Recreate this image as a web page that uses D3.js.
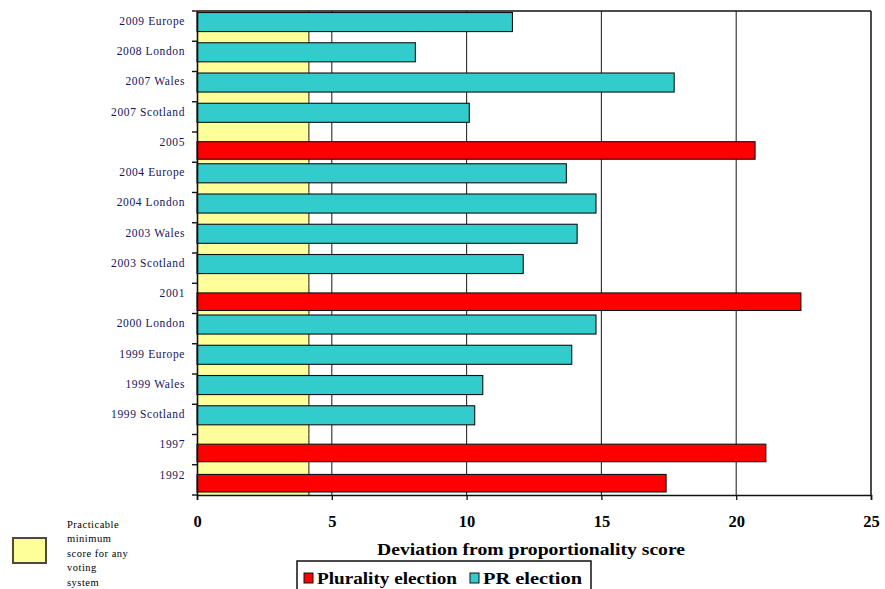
<!DOCTYPE html>
<html>
<head>
<meta charset="utf-8">
<script src="https://cdn.jsdelivr.net/npm/d3@7"></script>
<style>
  html, body { margin: 0; padding: 0; background: #ffffff; }
  svg { display: block; }
</style>
</head>
<body>
<div id="chart"></div>
<script>
// ---------- data ----------
const categories = ["2009 Europe", "2008 London", "2007 Wales", "2007 Scotland", "2005",
  "2004 Europe", "2004 London", "2003 Wales", "2003 Scotland", "2001",
  "2000 London", "1999 Europe", "1999 Wales", "1999 Scotland", "1997", "1992"];
const electionType = ["PR", "PR", "PR", "PR", "Plurality",
  "PR", "PR", "PR", "PR", "Plurality",
  "PR", "PR", "PR", "PR", "Plurality", "Plurality"];
const deviation = [11.7, 8.1, 17.7, 10.1, 20.7,
  13.7, 14.8, 14.1, 12.1, 22.4,
  14.8, 13.9, 10.6, 10.3, 21.1, 17.4];
const minimumScore = [4.15, 4.15, 4.15, 4.15, 4.15, 4.15, 4.15, 4.15,
  4.15, 4.15, 4.15, 4.15, 4.15, 4.15, 4.15, 4.15];
const xTicks = [0, 5, 10, 15, 20, 25];
const seriesNames = ["Plurality election", "PR election"];
const minimumLabel = ["Practicable", "minimum", "score for any", "voting", "system"];
const xTitle = "Deviation from proportionality score";

// ---------- setup ----------
const W = 885, H = 589;
const colors = { Plurality: "#ff0000", PR: "#33cccc", minimum: "#ffff99" };
const serif = "'Liberation Serif', 'Times New Roman', serif";

const svg = d3.select("#chart").append("svg")
  .attr("width", W).attr("height", H);

const x = d3.scaleLinear().domain([0, 25]).range([197, 871]);
const y = d3.scaleBand().domain(categories).range([11, 495]).padding(0);
const bw = y.bandwidth();

const rows = categories.map((c, i) => ({
  cat: c, type: electionType[i], val: deviation[i], min: minimumScore[i]
}));

// yellow practicable-minimum bars (behind)
svg.append("g").selectAll("rect").data(rows).join("rect")
  .attr("x", x(0))
  .attr("y", d => y(d.cat))
  .attr("width", d => x(d.min) - x(0))
  .attr("height", bw)
  .attr("fill", colors.minimum);
svg.append("g").selectAll("line").data(rows).join("line")
  .attr("x1", d => x(d.min)).attr("x2", d => x(d.min))
  .attr("y1", d => y(d.cat)).attr("y2", d => y(d.cat) + bw)
  .attr("stroke", "#4d4d33").attr("stroke-width", 1.3);

// gridlines
svg.append("g").selectAll("line").data(xTicks.filter(t => t > 0 && t < 25)).join("line")
  .attr("x1", d => x(d)).attr("x2", d => x(d))
  .attr("y1", 11).attr("y2", 495)
  .attr("stroke", "#2a2a2a").attr("stroke-width", 1.1);

// data bars
svg.append("g").selectAll("rect").data(rows).join("rect")
  .attr("x", x(0))
  .attr("y", d => y(d.cat) + (d.type === "PR" ? 0.05 : 0.32) * bw)
  .attr("width", d => x(d.val) - x(0))
  .attr("height", d => (d.type === "PR" ? 0.63 : 0.58) * bw)
  .attr("fill", d => colors[d.type])
  .attr("stroke", "#111")
  .attr("stroke-width", 1.1);

// frame (top, right)
svg.append("line").attr("x1", x(0)).attr("x2", x(25)).attr("y1", 11).attr("y2", 11)
  .attr("stroke", "#111").attr("stroke-width", 1.5);
svg.append("line").attr("x1", x(25)).attr("x2", x(25)).attr("y1", 11).attr("y2", 495)
  .attr("stroke", "#111").attr("stroke-width", 1.5);

// x axis
const xAxis = svg.append("g").attr("transform", "translate(0,495)")
  .call(d3.axisBottom(x).tickValues(xTicks).tickSize(5).tickPadding(15).tickFormat(d3.format("d")));
xAxis.select(".domain").attr("stroke", "#111").attr("stroke-width", 1.6);
xAxis.selectAll(".tick line").attr("stroke", "#111").attr("stroke-width", 1.3);
xAxis.selectAll(".tick text")
  .attr("font-family", serif)
  .attr("font-weight", "bold").attr("font-size", 16.5).attr("fill", "#000");

// y axis
const yTickPos = categories.map(c => y(c)).concat([495]);
const yAxis = svg.append("g").attr("transform", "translate(197,0)")
  .call(d3.axisLeft(y).tickSize(0).tickPadding(12));
yAxis.select(".domain").attr("stroke", "#111").attr("stroke-width", 1.6);
yAxis.selectAll(".tick text")
  .attr("transform", "translate(0,-5)")
  .attr("font-family", serif)
  .attr("font-size", 11.5).attr("letter-spacing", 0.6)
  .attr("fill", "#14145c");
svg.append("g").selectAll("line").data(yTickPos).join("line")
  .attr("x1", 192).attr("x2", 197)
  .attr("y1", d => d).attr("y2", d => d)
  .attr("stroke", "#111").attr("stroke-width", 1.4);

// x title
svg.append("text")
  .attr("x", 377).attr("y", 555)
  .attr("textLength", 308).attr("lengthAdjust", "spacingAndGlyphs")
  .attr("font-family", serif)
  .attr("font-weight", "bold").attr("font-size", 16.5).attr("fill", "#000")
  .text(xTitle);

// series legend
const lg = svg.append("g");
lg.append("rect").attr("x", 297).attr("y", 561).attr("width", 294).attr("height", 40)
  .attr("fill", "#fff").attr("stroke", "#111").attr("stroke-width", 1.5);
const legendItems = [
  { name: seriesNames[0], color: colors.Plurality, sx: 304, tx: 317, len: 140 },
  { name: seriesNames[1], color: colors.PR, sx: 470, tx: 483, len: 99 }
];
legendItems.forEach(it => {
  lg.append("rect").attr("x", it.sx).attr("y", 573).attr("width", 9).attr("height", 10)
    .attr("fill", it.color).attr("stroke", "#111").attr("stroke-width", 1);
  lg.append("text").attr("x", it.tx).attr("y", 583.5)
    .attr("textLength", it.len).attr("lengthAdjust", "spacingAndGlyphs")
    .attr("font-family", serif)
    .attr("font-weight", "bold").attr("font-size", 17).attr("fill", "#000")
    .text(it.name);
});

// practicable minimum legend
svg.append("rect").attr("x", 13).attr("y", 538).attr("width", 33).attr("height", 25)
  .attr("fill", colors.minimum).attr("stroke", "#4d4d33").attr("stroke-width", 2);
svg.append("g").selectAll("text").data(minimumLabel).join("text")
  .attr("x", 67).attr("y", (d, i) => 528 + i * 14.4)
  .attr("font-family", serif)
  .attr("font-size", 10.5).attr("letter-spacing", 0.5).attr("fill", "#000")
  .text(d => d);
</script>
</body>
</html>
